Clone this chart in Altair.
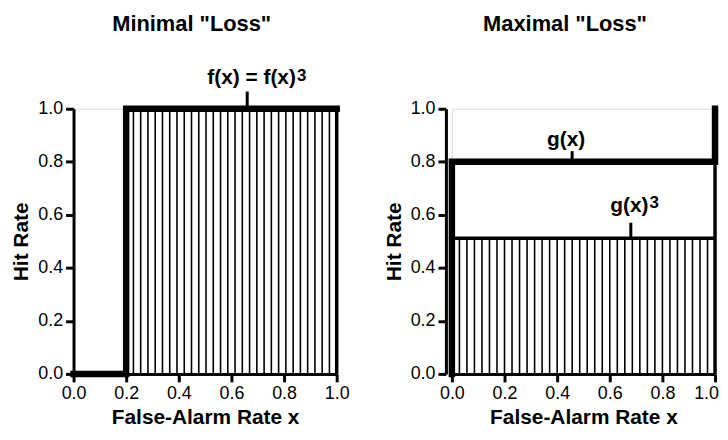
import altair as alt
import pandas as pd
import numpy as np

FONT = "Liberation Sans"

# ---- data ----
x_ticks = [0.0, 0.2, 0.4, 0.6, 0.8, 1.0]
y_ticks = [0.0, 0.2, 0.4, 0.6, 0.8, 1.0]

# Minimal "Loss": f(x) step curve
f_x = [0.0, 0.2, 0.2, 1.0]
f_y = [0.0, 0.0, 1.0, 1.0]
f_step = 0.2
f_level = 1.0

# Maximal "Loss": g(x) and g(x)^3
g_x = [0.0, 0.0, 1.0, 1.0]
g_y = [0.0, 0.8, 0.8, 1.0]
g_level = 0.8
g3_level = 0.512

titles = ['Minimal "Loss"', 'Maximal "Loss"']

# hatch decoration (style only)
left_hatch = np.linspace(f_step, 1.0, 30)
right_hatch = np.linspace(0.0, 1.0, 36)

W, H = 265, 267

xs = alt.Scale(domain=[0, 1], nice=False)
ys = alt.Scale(domain=[0, 1], nice=False)


def panel(curve_x, curve_y, hatch_x, hatch_top, edges, pointers, labels, sups,
          title, title_x, title_y, yoff, last_label_shift):
    hatch_df = pd.DataFrame({"x": hatch_x, "y0": 0.0, "y1": hatch_top})
    xaxis = alt.Axis(values=x_ticks, format=".1f", title="False-Alarm Rate x",
                     labelOffset={"condition": {"test": "datum.value >= 1", "value": last_label_shift},
                                  "value": 0})
    base_axes = alt.Chart(pd.DataFrame({"x": [0.0], "y": [0.0]})).mark_point(opacity=0).encode(
        x=alt.X("x:Q", scale=xs, axis=xaxis),
        y=alt.Y("y:Q", scale=ys, axis=alt.Axis(values=y_ticks, format=".1f",
                                               title="Hit Rate", offset=yoff)),
    )
    hatch = alt.Chart(hatch_df).mark_rule(color="black", strokeWidth=1.6).encode(
        x=alt.X("x:Q", scale=xs), y=alt.Y("y0:Q", scale=ys), y2="y1:Q")
    edge_df = pd.DataFrame(edges, columns=["x", "x2", "y", "y2", "w"])
    edge_layers = []
    for i in range(len(edge_df)):
        r = edge_df.iloc[[i]]
        edge_layers.append(
            alt.Chart(r).mark_rule(color="black", strokeWidth=float(r["w"].iloc[0]),
                                   strokeCap="butt").encode(
                x=alt.X("x:Q", scale=xs), x2="x2:Q",
                y=alt.Y("y:Q", scale=ys), y2="y2:Q"))
    curve_df = pd.DataFrame({"x": curve_x, "y": curve_y, "o": range(len(curve_x))})
    curve = alt.Chart(curve_df).mark_line(color="black", strokeWidth=6.5,
                                          strokeJoin="miter", strokeCap="square").encode(
        x=alt.X("x:Q", scale=xs), y=alt.Y("y:Q", scale=ys), order="o:Q")
    ptr_df = pd.DataFrame(pointers, columns=["x", "y", "y2"])
    ptr = alt.Chart(ptr_df).mark_rule(color="black", strokeWidth=3).encode(
        x=alt.X("x:Q", scale=xs), y=alt.Y("y:Q", scale=ys), y2="y2:Q")
    lab_df = pd.DataFrame(labels, columns=["x", "y", "t", "a"])
    labs = []
    for a in lab_df["a"].unique():
        labs.append(alt.Chart(lab_df[lab_df["a"] == a]).mark_text(
            font=FONT, fontSize=21, fontWeight="bold", color="black", align=a,
            baseline="alphabetic").encode(
            x=alt.X("x:Q", scale=xs), y=alt.Y("y:Q", scale=ys), text="t:N"))
    sup_df = pd.DataFrame(sups, columns=["x", "y", "t"])
    sup = alt.Chart(sup_df).mark_text(
        font=FONT, fontSize=17, fontWeight="bold", color="black", align="left",
        baseline="alphabetic", dx=1).encode(
        x=alt.X("x:Q", scale=xs), y=alt.Y("y:Q", scale=ys), text="t:N")
    ttl = alt.Chart(pd.DataFrame({"x": [title_x], "y": [title_y], "t": [title]})).mark_text(
        font=FONT, fontSize=22, fontWeight="bold", color="black", align="center",
        baseline="alphabetic").encode(
        x=alt.X("x:Q", scale=xs), y=alt.Y("y:Q", scale=ys), text="t:N")
    return alt.layer(base_axes, hatch, *edge_layers, curve, ptr, *labs, sup, ttl).properties(
        width=W, height=H)


left = panel(
    f_x, f_y, left_hatch, f_level,
    edges=[(1.0, 1.0, 0.0, 1.0, 3.5)],
    pointers=[(0.66, 1.0, 1.065)],
    labels=[(0.845, 1.094, "f(x) = f(x)", "right")],
    sups=[(0.845, 1.104, "3")],
    title=titles[0], title_x=0.449, title_y=1.292, yoff=0, last_label_shift=0)

right = panel(
    g_x, g_y, right_hatch, g3_level,
    edges=[(0.0, 1.0, g3_level, g3_level, 3.5), (1.0, 1.0, 0.0, g_level, 3.5)],
    pointers=[(0.457, g_level, 0.84), (0.68, g3_level, 0.57)],
    labels=[(0.434, 0.859, "g(x)", "center"), (0.747, 0.612, "g(x)", "right")],
    sups=[(0.747, 0.627, "3")],
    title=titles[1], title_x=0.43, title_y=1.295, yoff=6, last_label_shift=-9)

chart = alt.hconcat(left, right, spacing=32).configure_view(stroke=None).configure(
    background="white",
    padding={"left": 2, "top": 2, "right": -9, "bottom": 0},
).configure_axis(
    labelFont=FONT, labelFontSize=18, labelColor="black",
    titleFont=FONT, titleFontSize=21, titleFontWeight="bold", titleColor="black",
    domainWidth=3, domainColor="black", tickWidth=3, tickSize=8, tickColor="black",
    labelPadding=3, grid=False, labelFlush=False,
).configure_axisX(titlePadding=4).configure_axisY(titlePadding=6)

chart.save("out.html", embed_options={"renderer": "svg", "actions": False})
